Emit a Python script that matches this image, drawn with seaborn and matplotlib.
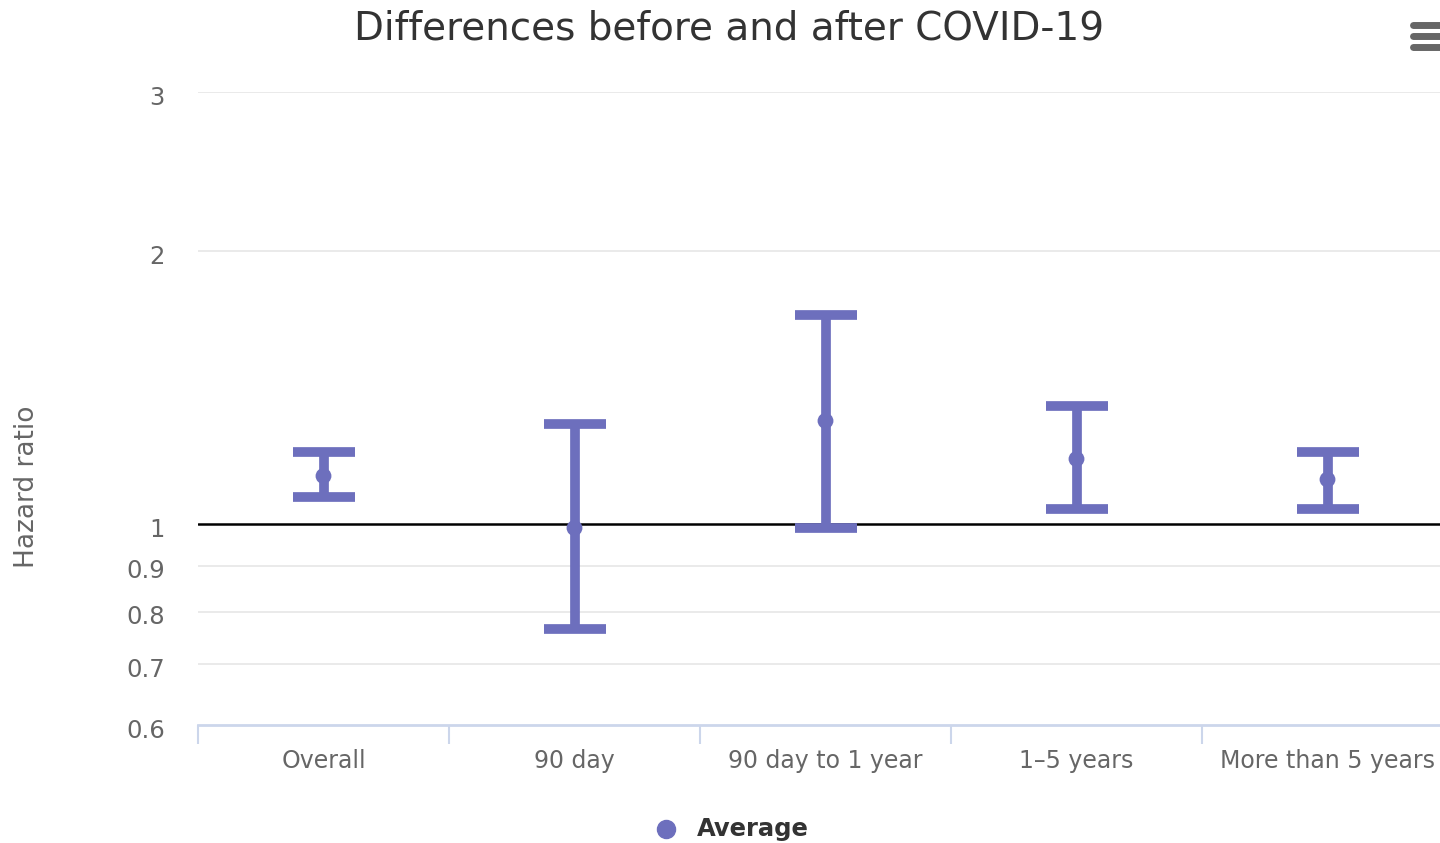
import numpy as np
import pandas as pd
import matplotlib
matplotlib.use("Agg")
import matplotlib.pyplot as plt
from matplotlib.lines import Line2D
from matplotlib.transforms import ScaledTranslation
import seaborn as sns

# data
categories = ["Overall", "90 day", "90 day to 1 year", "1\u20135 years", "More than 5 years"]
average = [1.13, 0.99, 1.30, 1.18, 1.12]
lower = [1.07, 0.765, 0.99, 1.04, 1.04]
upper = [1.20, 1.29, 1.70, 1.35, 1.20]
y_ticks = [0.6, 0.7, 0.8, 0.9, 1, 2, 3]
y_tick_labels = ["0.6", "0.7", "0.8", "0.9", "1", "2", "3"]

color = "#6d6fbd"

sns.set_theme(style="white")
plt.rcParams["font.family"] = ["DejaVu Sans"]

df = pd.DataFrame({"pos": np.arange(len(categories)), "category": categories,
                   "average": average, "lower": lower, "upper": upper})

W, H = 1440, 843
fig = plt.figure(figsize=(W / 100, H / 100), dpi=100)
ax = fig.add_axes([198 / W, 1 - 725 / H, 1255 / W, 633 / H])

ax.set_yscale("log")
ax.set_ylim(0.6, 3)
ax.set_xlim(-0.5, len(categories) - 0.5)

# grid
for t in y_ticks:
    if t in (0.6, 1):
        continue
    ax.axhline(t, color="#e6e6e6", lw=1.2, zorder=0)
ax.axhline(1, color="black", lw=1.8, zorder=1)

# error bars
yerr = np.array([df["average"] - df["lower"], df["upper"] - df["average"]])
ax.errorbar(df["pos"], df["average"], yerr=yerr, fmt="none", ecolor=color,
            elinewidth=7, capsize=22, capthick=7, zorder=3)
sns.scatterplot(data=df, x="pos", y="average", ax=ax, color=color, s=130,
                edgecolor="none", zorder=4, legend=False)

# axes styling
ax.set_yticks(y_ticks)
ax.set_yticklabels(y_tick_labels)
ax.yaxis.set_minor_locator(matplotlib.ticker.NullLocator())
ax.set_xticks(df["pos"])
ax.set_xticklabels(categories)
ax.set_xticks(np.arange(len(categories)) - 0.5, minor=True)
ax.tick_params(axis="x", which="major", bottom=False, length=0, pad=17, labelsize=17, labelcolor="#666666")
ax.tick_params(axis="x", which="minor", bottom=True, length=14, width=1.5, color="#ccd6eb", direction="out")
ax.tick_params(axis="y", which="both", left=False, length=0, pad=24, labelsize=17.5, labelcolor="#666666")
for lab in ax.get_yticklabels():
    lab.set_transform(lab.get_transform() + ScaledTranslation(0, -3 / 100, fig.dpi_scale_trans))
ax.set_xlabel("")
ax.set_ylabel("")
for s in ["top", "right", "left"]:
    ax.spines[s].set_visible(False)
ax.spines["bottom"].set_color("#ccd6eb")
ax.spines["bottom"].set_linewidth(2)

fig.text(27 / W, 1 - 487 / H, "Hazard ratio", rotation=90, ha="center", va="center",
         fontsize=19, color="#666666")
fig.text(729 / W, 1 - 28 / H, "Differences before and after COVID\u201119", ha="center", va="center",
         fontsize=28, color="#333333")

# legend
fig.add_artist(Line2D([666 / W], [1 - 829 / H], marker="o", markersize=13, color=color,
                      transform=fig.transFigure, linestyle="none"))
fig.text(697 / W, 1 - 829 / H, "Average", ha="left", va="center", fontsize=17.5,
         fontweight="bold", color="#333333")

# menu icon
for yy in (25, 36, 47):
    fig.add_artist(Line2D([1413 / W, 1442 / W], [1 - yy / H, 1 - yy / H], lw=5,
                          color="#666666", solid_capstyle="round", transform=fig.transFigure))

fig.savefig("out.png", dpi=100)
